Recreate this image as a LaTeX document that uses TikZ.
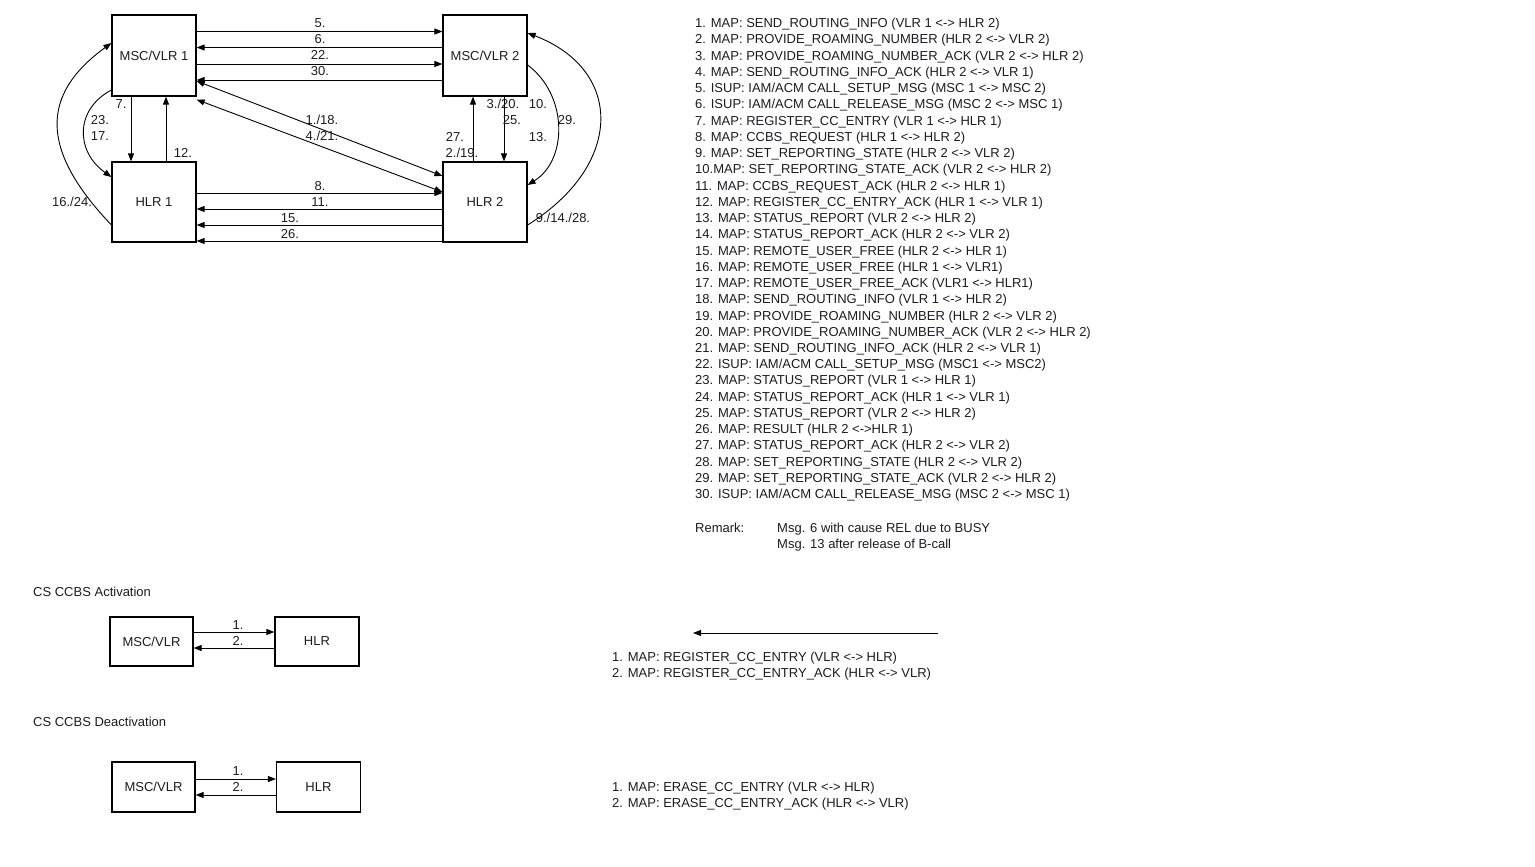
\documentclass[tikz,border=0pt]{standalone}
\usepackage{fontspec}
\setmainfont{Liberation Sans}
\usetikzlibrary{arrows.meta}
\definecolor{ink}{HTML}{1C1C24}
\begin{document}
\begin{tikzpicture}[x=1pt,y=-1pt,
  txt/.style={font=\fontsize{13}{15}\selectfont, text=ink, inner sep=0pt},
  box/.style={draw, line width=1.2pt, inner sep=0pt, minimum width=84pt, minimum height=81pt, txt},
  sbox/.style={box, minimum height=49pt},
  lbl/.style={txt, anchor=base},
  lft/.style={txt, anchor=base west},
  arr/.style={line width=0.9pt, -{Triangle[length=8pt,width=6pt]}},
  darr/.style={line width=0.9pt, {Triangle[length=8pt,width=6pt]}-{Triangle[length=8pt,width=6pt]}}
]
\useasboundingbox[fill=white] (0,0) rectangle (1535,867);

% ---------- network of the CCBS call ----------
\node[box] (msc1) at (154,55.5) {MSC/VLR 1};
\node[box] (msc2) at (485,55.5) {MSC/VLR 2};
\node[box, minimum height=80pt] (hlr1) at (154,202) {HLR 1};
\node[box, minimum height=80pt] (hlr2) at (485,202) {HLR 2};

% MSC 1 <-> MSC 2
\draw[arr] ([yshift=24pt]msc1.east) -- ([yshift=24pt]msc2.west);
\draw[arr] ([yshift=8pt]msc2.west) -- ([yshift=8pt]msc1.east);
\draw[arr] ([yshift=-8.5pt]msc1.east) -- ([yshift=-8.5pt]msc2.west);
\draw[arr] ([yshift=-24.5pt]msc2.west) -- ([yshift=-24.5pt]msc1.east);
\node[lbl] (n5)  at (320,27.7) {5.};
\node[lbl] (n6)  at (320,43.7) {6.};
\node[lbl] (n22) at (320,59.9) {22.};
\node[lbl] (n30) at (320,75.7) {30.};

% HLR 1 <-> HLR 2
\draw[arr] ([yshift=9pt]hlr1.east) -- ([yshift=9pt]hlr2.west);
\draw[arr] ([yshift=-7pt]hlr2.west) -- ([yshift=-7pt]hlr1.east);
\draw[arr] ([yshift=-23pt]hlr2.west) -- ([yshift=-23pt]hlr1.east);
\draw[arr] ([yshift=-39pt]hlr2.west) -- ([yshift=-39pt]hlr1.east);
\node[lbl] (n8)  at (320,190.7) {8.};
\node[lbl] (n11) at (320,206.7) {11.};
\node[lbl] (n15) at (290,222.7) {15.};
\node[lbl] (n26) at (290,238.7) {26.};

% MSC/VLR 1 <-> HLR 2
\draw[darr] ([yshift=-25.5pt]msc1.east) -- ([yshift=26pt]hlr2.west);
\draw[darr] ([yshift=-3pt]msc1.south east) -- ([yshift=10pt]hlr2.west);
\node[lbl] (n1) at (322,124.7) {1./18.};
\node[lbl] (n4) at (322,140.7) {4./21.};

% MSC/VLR 1 <-> HLR 1
\draw[arr] ([xshift=-23pt]msc1.south) -- ([xshift=-23pt]hlr1.north);
\draw[arr] ([xshift=12pt]hlr1.north) -- ([xshift=12pt]msc1.south);
\node[lbl] (n7)  at (121,108.7) {7.};
\node[lbl] (n12) at (183,157.7) {12.};
\draw[arr] ([yshift=-34.5pt]msc1.west) .. controls (74,110) and (76,152) .. ([yshift=25pt]hlr1.west);
\draw[arr] ([yshift=-23pt]hlr1.west) .. controls (40,150) and (40,95) .. ([yshift=12.5pt]msc1.west);
\node[lbl] (n23) at (100,124.7) {23.};
\node[lbl] (n17) at (100,140.7) {17.};
\node[lbl] (n16) at (72,206.2) {16./24.};

% MSC/VLR 2 <-> HLR 2
\draw[arr] ([xshift=-12pt]hlr2.north) -- ([xshift=-12pt]msc2.south);
\draw[arr] ([xshift=19pt]msc2.south) -- ([xshift=19pt]hlr2.north);
\node[lbl] (n3)  at (503,108.7) {3./20.};
\node[lbl] (n25) at (512,124.7) {25.};
\node[lbl] (n27) at (455,141.7) {27.};
\node[lbl] (n2)  at (462,157.7) {2./19.};
\node[lbl] (n10) at (538,108.7) {10.};
\node[lbl] (n13) at (538,141.7) {13.};
\draw[arr] ([yshift=-9.5pt]msc2.east) .. controls (568,95) and (568,160) .. ([yshift=17pt]hlr2.east);
\draw[arr] ([yshift=-23pt]hlr2.east) .. controls (624,165) and (624,70) .. ([yshift=22.5pt]msc2.east);
\node[lbl] (n29) at (567,124.7) {29.};
\node[lbl] (n9)  at (563,222.2) {9./14./28.};

% ---------- message list ----------
\foreach \msg [count=\i] in {
  {1. MAP: SEND\_ROUTING\_INFO (VLR 1 <-> HLR 2)},
  {2. MAP: PROVIDE\_ROAMING\_NUMBER (HLR 2 <-> VLR 2)},
  {3. MAP: PROVIDE\_ROAMING\_NUMBER\_ACK (VLR 2 <-> HLR 2)},
  {4. MAP: SEND\_ROUTING\_INFO\_ACK (HLR 2 <-> VLR 1)},
  {5. ISUP: IAM/ACM CALL\_SETUP\_MSG (MSC 1 <-> MSC 2)},
  {6. ISUP: IAM/ACM CALL\_RELEASE\_MSG (MSC 2 <-> MSC 1)},
  {7. MAP: REGISTER\_CC\_ENTRY (VLR 1 <-> HLR 1)},
  {8. MAP: CCBS\_REQUEST (HLR 1 <-> HLR 2)},
  {9. MAP: SET\_REPORTING\_STATE (HLR 2 <-> VLR 2)},
  {10.MAP: SET\_REPORTING\_STATE\_ACK (VLR 2 <-> HLR 2)},
  {11. MAP: CCBS\_REQUEST\_ACK (HLR 2 <-> HLR 1)},
  {12. MAP: REGISTER\_CC\_ENTRY\_ACK (HLR 1 <-> VLR 1)},
  {13. MAP: STATUS\_REPORT (VLR 2 <-> HLR 2)},
  {14. MAP: STATUS\_REPORT\_ACK (HLR 2 <-> VLR 2)},
  {15. MAP: REMOTE\_USER\_FREE (HLR 2 <-> HLR 1)},
  {16. MAP: REMOTE\_USER\_FREE (HLR 1 <-> VLR1)},
  {17. MAP: REMOTE\_USER\_FREE\_ACK (VLR1 <-> HLR1)},
  {18. MAP: SEND\_ROUTING\_INFO (VLR 1 <-> HLR 2)},
  {19. MAP: PROVIDE\_ROAMING\_NUMBER (HLR 2 <-> VLR 2)},
  {20. MAP: PROVIDE\_ROAMING\_NUMBER\_ACK (VLR 2 <-> HLR 2)},
  {21. MAP: SEND\_ROUTING\_INFO\_ACK (HLR 2 <-> VLR 1)},
  {22. ISUP: IAM/ACM CALL\_SETUP\_MSG (MSC1 <-> MSC2)},
  {23. MAP: STATUS\_REPORT (VLR 1 <-> HLR 1)},
  {24. MAP: STATUS\_REPORT\_ACK (HLR 1 <-> VLR 1)},
  {25. MAP: STATUS\_REPORT (VLR 2 <-> HLR 2)},
  {26. MAP: RESULT (HLR 2 <->HLR 1)},
  {27. MAP: STATUS\_REPORT\_ACK (HLR 2 <-> VLR 2)},
  {28. MAP: SET\_REPORTING\_STATE (HLR 2 <-> VLR 2)},
  {29. MAP: SET\_REPORTING\_STATE\_ACK (VLR 2 <-> HLR 2)},
  {30. ISUP: IAM/ACM CALL\_RELEASE\_MSG (MSC 2 <-> MSC 1)}}
  \node[lft] (m\i) at (695,{27.7+16.24*(\i-1)}) {\msg};

\node[lft] (remark) at (695,532.7) {Remark:};
\node[lft] (rem1) at (777,532.7) {Msg. 6 with cause REL due to BUSY};
\node[lft] (rem2) at (777,548.7) {Msg. 13 after release of B-call};

% ---------- CS CCBS activation ----------
\node[lft] (acttitle) at (33,596.7) {CS CCBS Activation};
\node[sbox, minimum width=83pt] (avlr) at (151.5,641.5) {MSC/VLR};
\node[sbox] (ahlr) at (317,641.5) {HLR};
\draw[arr] ([yshift=9.5pt]avlr.east) -- ([yshift=9.5pt]ahlr.west);
\draw[arr] ([yshift=-6.5pt]ahlr.west) -- ([yshift=-6.5pt]avlr.east);
\node[lbl] (a1) at (238,629.7) {1.};
\node[lbl] (a2) at (238,645.7) {2.};

\coordinate (lfrom) at (938,633);
\coordinate (lto) at (693,633);
\draw[arr] (lfrom) -- (lto);

\node[lft] (ar1) at (612,661.7) {1. MAP: REGISTER\_CC\_ENTRY (VLR <-> HLR)};
\node[lft] (ar2) at (612,677.7) {2. MAP: REGISTER\_CC\_ENTRY\_ACK (HLR <-> VLR)};

% ---------- CS CCBS deactivation ----------
\node[lft] (deacttitle) at (33,726.7) {CS CCBS Deactivation};
\node[sbox, minimum width=83pt, minimum height=50pt] (dvlr) at (153.5,787) {MSC/VLR};
\node[sbox, minimum height=50pt] (dhlr) at (318.5,787) {HLR};
\draw[arr] ([yshift=8pt]dvlr.east) -- ([yshift=8pt]dhlr.west);
\draw[arr] ([yshift=-8pt]dhlr.west) -- ([yshift=-8pt]dvlr.east);
\node[lbl] (d1) at (238,775.7) {1.};
\node[lbl] (d2) at (238,791.7) {2.};

\node[lft] (dr1) at (612,791.7) {1. MAP: ERASE\_CC\_ENTRY (VLR <-> HLR)};
\node[lft] (dr2) at (612,807.7) {2. MAP: ERASE\_CC\_ENTRY\_ACK (HLR <-> VLR)};
\end{tikzpicture}
\end{document}
